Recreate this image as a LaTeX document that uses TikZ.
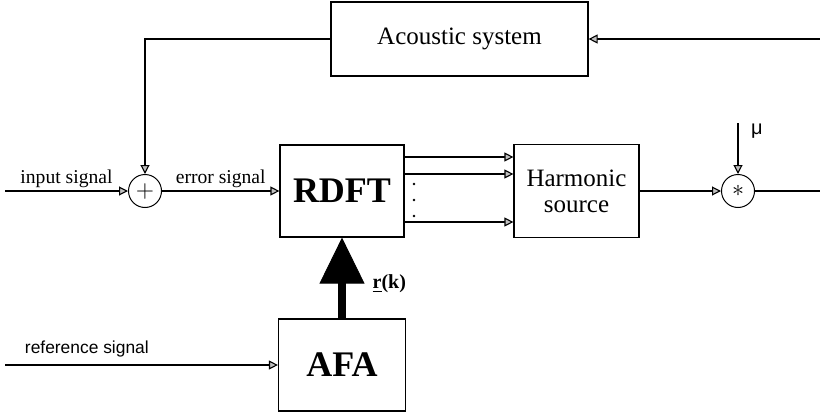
\documentclass[tikz,border=0pt]{standalone}
\usepackage{fontspec}
\setmainfont{Liberation Serif}
\newfontfamily\labelsans{Liberation Sans}
\usetikzlibrary{arrows.meta}

\tikzset{
  sig/.style={line width=0.55pt, -{Triangle[length=4.5pt,width=4.5pt,fill=gray!50]}},
  block/.style={draw, line width=0.6pt, inner sep=0pt, align=center,
    font=\fontsize{12.5}{13}\selectfont},
  bigblock/.style={block, font=\fontsize{18}{20}\selectfont\bfseries},
  junction/.style={draw, circle, line width=0.5pt, inner sep=0pt, minimum size=16.5pt,
    font=\fontsize{13}{14}\selectfont},
  lbl/.style={font=\fontsize{9.8}{11}\selectfont, inner sep=1.5pt},
  fat/.style={line width=4pt, -{Triangle[length=23pt,width=22.5pt,line width=0.4pt]}},
}

\begin{document}
\begin{tikzpicture}[x=0.5pt,y=-0.5pt]
    \useasboundingbox (0,0) rectangle (820,418);

    % blocks
    \node[block, minimum width=128.5pt, minimum height=37pt] (acoustic) at (459.5,39) {Acoustic system};
    \node[bigblock, minimum width=62pt, minimum height=46pt] (rdft) at (342,191) {RDFT};
    \node[block, minimum width=62.5pt, minimum height=46.5pt] (harm) at (576.5,191) {Harmonic\\source};
    \node[bigblock, minimum width=63.5pt, minimum height=46pt] (afa) at (342,365) {AFA};
    \node[junction] (sum) at (145,191) {$+$};
    \node[junction] (mult) at (738,191) {$\ast$};

    % free ends
    \coordinate (in) at (5,191);
    \coordinate (ref) at (5,365);
    \coordinate (fb) at (820,39);
    \coordinate (mu) at (738,123);
    \coordinate (out) at (820,191);

    % signal path
    \draw[sig] (in) -- (sum) node[lbl, midway, above]{input signal};
    \draw[sig] (sum) -- (rdft) node[lbl, midway, above]{error signal};
    \draw[sig] (ref) -- (afa) node[pos=0.3, above=0.5pt, font=\labelsans\fontsize{8.7}{10}\selectfont]{reference signal};
    \draw[fat] (afa) -- (rdft) node[pos=0.43, right=10pt, font=\bfseries\fontsize{10}{12}\selectfont]{\underline{r}(k)};

    \foreach \y in {157,174,222}{\draw[sig] (rdft.east |- 0,\y) -- (harm.west |- 0,\y);}
    \foreach \y in {184,200,216}{\fill (414,\y) circle (0.7pt);}

    \draw[sig] (harm) -- (mult);
    \draw[sig] (mu) -- (mult) node[pos=0.15, right=3pt, font=\labelsans\fontsize{10}{12}\selectfont]{μ};
    \draw[line width=0.55pt] (mult) -- (out);

    % feedback through the acoustic system
    \draw[sig] (fb) -- (acoustic);
    \draw[sig] (acoustic.west) -| (sum);
\end{tikzpicture}
\end{document}
